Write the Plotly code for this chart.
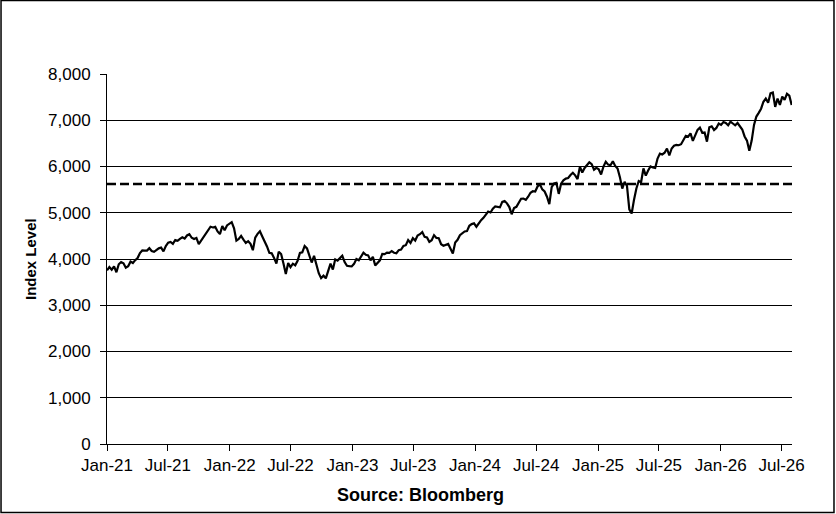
import pandas as pd
import plotly.graph_objects as go

# weekly closes (Fridays)
lvl_2021 = [3756, 3825, 3768, 3841, 3714, 3887, 3934, 3907, 3811, 3842, 3943, 3913, 3975,
            4020, 4129, 4185, 4180, 4181, 4233, 4174, 4156, 4204, 4230, 4247, 4166, 4281,
            4352, 4370, 4327, 4412, 4395, 4437, 4468, 4442, 4509, 4535, 4459, 4433, 4455,
            4320, 4391, 4471, 4545, 4605, 4697, 4682, 4698, 4595, 4538, 4712, 4620, 4726, 4766]
lvl_2022 = [4796, 4662, 4398, 4432, 4500, 4418, 4349, 4385, 4329, 4190, 4463, 4543,
            4600, 4488, 4393, 4272, 4132, 4123, 4024, 3901, 4158, 4109, 3901, 3675,
            3912, 3825, 3899, 3863, 3962, 4130, 4145, 4280, 4228, 4058, 3924, 4067,
            3873, 3693, 3586, 3640, 3583, 3753, 3901, 3771, 3993, 3965, 4026, 4072,
            3934, 3852, 3845, 3840]
lvl_2023 = [3895, 3999, 3973, 4071, 4136, 4090, 4079, 3970, 4046, 3862, 3917, 3971,
            4109, 4105, 4138, 4133, 4169, 4136, 4124, 4192, 4205, 4282, 4299, 4410,
            4348, 4450, 4399, 4505, 4536, 4582, 4478, 4464, 4370, 4406, 4516, 4457,
            4450, 4320, 4288, 4308, 4327, 4224, 4117, 4358, 4415, 4514, 4559, 4595,
            4604, 4719, 4755, 4770]
lvl_2024 = [4697, 4784, 4840, 4891, 4959, 5027, 5006, 5089, 5137, 5124, 5117, 5234,
            5254, 5204, 5123, 4967, 5100, 5128, 5223, 5303, 5305, 5278, 5347, 5432,
            5465, 5460, 5567, 5615, 5505, 5459, 5346, 5186, 5554, 5634, 5648, 5408,
            5626, 5703, 5738, 5751, 5815, 5864, 5808, 5729, 5996, 5870, 5969, 6032,
            6090, 6051, 5931, 5971]
lvl_2025 = [5942, 5827, 5997, 6101, 6041, 6026, 6115, 6013, 5955, 5770, 5522, 5668,
            5581, 5074, 4983, 5283, 5525, 5686, 5660, 5958, 5803, 5912, 6000, 5977,
            5968, 6173, 6279, 6260, 6297, 6389, 6238, 6389, 6450, 6467, 6460, 6482,
            6584, 6664, 6644, 6716, 6553, 6664, 6792, 6840, 6729, 6734, 6538, 6849,
            6870, 6790, 6834, 6930]
lvl_2026 = [6900, 6960, 6940, 6890, 6970, 6930, 6890, 6940, 6880, 6800, 6650, 6560,
            6340, 6560, 6900, 7080, 7160, 7250, 7400, 7470, 7380, 7580, 7600, 7290,
            7470, 7330, 7510, 7440, 7570, 7530, 7330]

avg_level = 5620

y_ticks = [0, 1000, 2000, 3000, 4000, 5000, 6000, 7000, 8000]

years = [2021, 2022, 2023, 2024, 2025, 2026]
series = [lvl_2021, lvl_2022, lvl_2023, lvl_2024, lvl_2025, lvl_2026]

dates = []
levels = []
for yr, vals in zip(years, series):
    dates += list(pd.date_range(f'{yr}-01-01', periods=len(vals), freq='W-FRI'))
    levels += vals

df = pd.DataFrame({'date': dates, 'level': levels})

font_ = 'Liberation Sans, Arial, sans-serif'

fig = go.Figure()

fig.add_trace(go.Scatter(
    x=df['date'],
    y=df['level'],
    mode='lines',
    line=dict(color='black', width=2.2),
    showlegend=False,
))

fig.add_hline(y=avg_level, line=dict(color='black', width=2.5, dash='9px,4px'))

fig.update_layout(
    width=836,
    height=514,
    margin=dict(l=107, r=44, t=74, b=70),
    paper_bgcolor='white',
    plot_bgcolor='white',
    font=dict(family=font_, size=17, color='black'),
)

fig.update_xaxes(
    type='date',
    range=['2021-01-01', '2026-08-01'],
    tick0='2021-01-01',
    dtick='M6',
    tickformat='%b-%y',
    ticks='outside',
    ticklen=6,
    tickcolor='black',
    showline=True,
    linecolor='black',
    linewidth=1,
    showgrid=False,
    zeroline=False,
)

fig.update_yaxes(
    range=[0, 8000],
    tickvals=y_ticks,
    tickformat=',.0f',
    ticks='outside',
    ticklen=6,
    tickcolor='black',
    ticklabelstandoff=6,
    showline=True,
    linecolor='black',
    linewidth=1,
    showgrid=True,
    gridcolor='black',
    gridwidth=1,
    zeroline=False,
)

# axis title and source note
fig.add_annotation(
    text='<b>Index Level</b>', textangle=-90,
    xref='paper', yref='paper', x=-0.1124, y=0.5,
    xanchor='center', yanchor='middle',
    showarrow=False, font=dict(size=15),
)
fig.add_annotation(
    text='<b>Source: Bloomberg</b>',
    xref='paper', yref='paper', x=0.457, y=-0.138,
    xanchor='center', yanchor='middle',
    showarrow=False, font=dict(size=18),
)

# border round the whole picture
fig.add_shape(
    type='rect', xref='paper', yref='paper',
    x0=-0.1547, x1=1.0613, y0=-0.1851, y1=1.1986,
    line=dict(color='black', width=1.5),
)

fig.write_html(
    'out.html',
    config={'displayModeBar': False},
    post_script="document.body.style.margin='0';",
)
